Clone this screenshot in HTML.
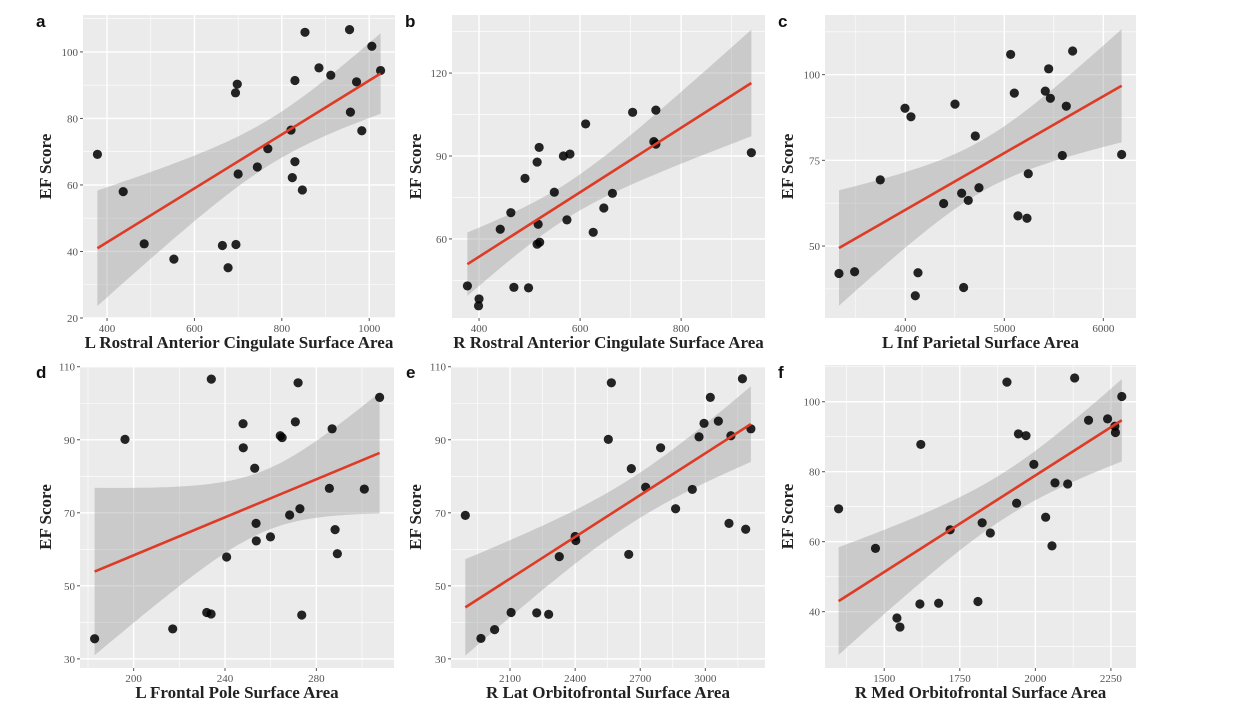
<!DOCTYPE html>
<html><head><meta charset="utf-8">
<style>
html,body{margin:0;padding:0;background:#fff;}
svg{display:block;}
.tick{font-family:"Liberation Serif",serif;font-size:11px;fill:#555;}
.ttl{font-family:"Liberation Serif",serif;font-size:17px;font-weight:bold;fill:#222;}
.let{font-family:"Liberation Sans",sans-serif;font-size:17px;font-weight:bold;fill:#111;}
</style></head>
<body>
<svg id="fig" width="1234" height="724" viewBox="0 0 1234 724" xmlns="http://www.w3.org/2000/svg"></svg>
<script>
const aX=[378,437,485,553,664,677,695,694,698,700,744,768,821,830,824,830,847,853,885,912,955,957,971,983,1006,1026];
const aY=[69.2,58,42.3,37.7,41.8,35.1,42.1,87.7,90.3,63.3,65.4,70.9,76.5,91.4,62.2,67,58.5,105.9,95.2,93,106.7,81.9,91,76.3,101.7,94.4];
const bX=[377,400,399,442,463,469,491,498,515,519,517,515,520,549,567,574,580,611,626,647,664,704,750,746,750,939];
const bY=[43,38.3,35.8,63.5,69.5,42.5,81.9,42.3,87.8,93.1,65.3,58.1,58.8,76.9,90,66.9,90.7,101.6,62.4,71.2,76.5,105.8,106.6,95.2,94.3,91.2];
const cX=[3330,3488,3747,3997,4057,4128,4101,4387,4502,4569,4636,4589,4707,4744,5064,5101,5138,5229,5242,5414,5448,5465,5586,5626,5690,6185];
const cY=[42,42.5,69.3,90.2,87.7,42.2,35.5,62.4,91.4,65.4,63.3,37.9,82.1,67,105.9,94.6,58.8,58.1,71.1,95.2,101.7,93.1,76.4,90.8,106.9,76.7];
const dX=[182.9,196.2,217.1,232,233.9,234,240.7,247.9,248,253,253.6,253.7,259.9,264.2,265,268.3,270.8,272,272.8,273.6,285.7,286.9,288.2,289.2,301,307.7];
const dY=[35.5,90.1,38.2,42.7,42.3,106.6,57.9,94.4,87.8,82.2,67.1,62.3,63.4,91.1,90.6,69.4,94.9,105.6,71.1,42,76.7,93,65.4,58.8,76.5,101.6];
const eX=[1894,1966,2029,2105,2223,2278,2327,2400,2403,2553,2567,2647,2659,2725,2794,2863,2940,2971,2994,3023,3060,3109,3118,3171,3186,3210];
const eY=[69.3,35.6,38,42.7,42.6,42.2,58,63.5,62.4,90.1,105.6,58.6,82.1,77,87.8,71.1,76.4,90.8,94.5,101.6,95.1,67.1,91.1,106.7,65.5,93];
const fX=[1349,1471,1542,1552,1618,1621,1680,1718,1810,1824,1851,1906,1938,1944,1969,1995,2034,2055,2065,2107,2130,2176,2239,2263,2265,2286];
const fY=[69.4,58.1,38.2,35.6,42.2,87.8,42.4,63.4,42.9,65.4,62.5,105.6,71,90.8,90.3,82.1,67,58.8,76.8,76.5,106.8,94.7,95.1,93,91.2,101.5];
const aXt=[400,600,800,1000], aYt=[20,40,60,80,100];
const bXt=[400,600,800], bYt=[60,90,120];
const cXt=[4000,5000,6000], cYt=[50,75,100];
const dXt=[200,240,280], dYt=[30,50,70,90,110];
const eXt=[2100,2400,2700,3000], eYt=[30,50,70,90,110];
const fXt=[1500,1750,2000,2250], fYt=[40,60,80,100];

const NS="http://www.w3.org/2000/svg";
const svg=document.getElementById('fig');
function mk(tag,attrs,parent){const e=document.createElementNS(NS,tag);for(const k in attrs)e.setAttribute(k,attrs[k]);(parent||svg).appendChild(e);return e;}

function panel(o){
  const g=mk('g',{});
  
  
  const sx=v=>o.px0+(v-o.x0)/(o.x1-o.x0)*(o.px1-o.px0);
  const sy=v=>o.py1-(v-o.y0)/(o.y1-o.y0)*(o.py1-o.py0);
  const bg=mk('rect',{x:o.px0,y:o.py0,width:o.px1-o.px0,height:o.py1-o.py0,fill:'#ebebeb'},g);
  
  
  const xs=o.xt[1]-o.xt[0], ys=o.yt[1]-o.yt[0];
  for(let v=o.xt[0]-xs*2.5;v<=o.x1;v+=xs/2){ if(v<o.x0)continue; const maj=Math.abs(((v-o.xt[0])/xs)%1)<1e-6;
    mk('line',{x1:sx(v),x2:sx(v),y1:o.py0,y2:o.py1,stroke:'#fff','stroke-width':maj?1.4:0.6},g);}
  for(let v=o.yt[0]-ys*2.5;v<=o.y1;v+=ys/2){ if(v<o.y0)continue; const maj=Math.abs(((v-o.yt[0])/ys)%1)<1e-6;
    mk('line',{y1:sy(v),y2:sy(v),x1:o.px0,x2:o.px1,stroke:'#fff','stroke-width':maj?1.4:0.6},g);}
  const X=o.X,Y=o.Y,n=X.length;
  const mx=X.reduce((a,b)=>a+b)/n,my=Y.reduce((a,b)=>a+b)/n;
  let sxx=0,sxy=0;for(let i=0;i<n;i++){sxx+=(X[i]-mx)**2;sxy+=(X[i]-mx)*(Y[i]-my);}
  const b=sxy/sxx,a=my-b*mx;let sse=0;for(let i=0;i<n;i++)sse+=(Y[i]-a-b*X[i])**2;
  const s=Math.sqrt(sse/(n-2)),t=2.064;
  const xmin=Math.min(...X),xmax=Math.max(...X);
  let up=[],lo=[];
  for(let k=0;k<=60;k++){const x=xmin+(xmax-xmin)*k/60;const yh=a+b*x;const se=s*Math.sqrt(1/n+(x-mx)**2/sxx);
    up.push(sx(x).toFixed(1)+','+sy(yh+t*se).toFixed(1));lo.unshift(sx(x).toFixed(1)+','+sy(yh-t*se).toFixed(1));}
  const band=mk('polygon',{points:up.concat(lo).join(' '),fill:'#999','fill-opacity':0.4},g);
  
  
  for(let i=0;i<n;i++){
    const c=mk('circle',{cx:sx(X[i]),cy:sy(Y[i]),r:4.6,fill:'#000','fill-opacity':0.85},g);
    
    
  }
  const ln=mk('line',{x1:sx(xmin),y1:sy(a+b*xmin),x2:sx(xmax),y2:sy(a+b*xmax),stroke:'#de3b26','stroke-width':2.6},g);
  
  
  for(const v of o.xt){mk('line',{x1:sx(v),x2:sx(v),y1:o.py1,y2:o.py1+3,stroke:'#555'},g);
    const tx=mk('text',{x:sx(v),y:o.py1+14,'text-anchor':'middle',class:'tick'},g);tx.textContent=v;
    
    }
  for(const v of o.yt){mk('line',{x1:o.px0-3,x2:o.px0,y1:sy(v),y2:sy(v),stroke:'#555'},g);
    const tx=mk('text',{x:o.px0-5,y:sy(v)+4,'text-anchor':'end',class:'tick'},g);tx.textContent=v;
    
    }
  const xt=mk('text',{x:(o.px0+o.px1)/2,y:o.py1+30,'text-anchor':'middle',class:'ttl'},g);xt.textContent=o.xtitle;
  
  
  const cy=(o.py0+o.py1)/2;
  const yt=mk('text',{x:o.ylx,y:cy,'text-anchor':'middle',class:'ttl',transform:'rotate(-90 '+o.ylx+' '+cy+')'},g);yt.textContent='EF Score';
  
  
  const lt=mk('text',{x:o.lx,y:o.ly,class:'let'},g);lt.textContent=o.letter;
  
  
}
panel({letter:'a',X:aX,Y:aY,xt:aXt,yt:aYt,px0:83,px1:395,py0:15,py1:318,x0:345,x1:1059,y0:20,y1:111.1,xtitle:'L Rostral Anterior Cingulate Surface Area',ylx:51,lx:36,ly:27});
panel({letter:'b',X:bX,Y:bY,xt:bXt,yt:bYt,px0:452,px1:765,py0:15,py1:318,x0:346.5,x1:966,y0:31.4,y1:141,xtitle:'R Rostral Anterior Cingulate Surface Area',ylx:421,lx:405,ly:27});
panel({letter:'c',X:cX,Y:cY,xt:cXt,yt:cYt,px0:825,px1:1136,py0:15,py1:318,x0:3189,x1:6330,y0:29,y1:117.4,xtitle:'L Inf Parietal Surface Area',ylx:793,lx:778,ly:27});
panel({letter:'d',X:dX,Y:dY,xt:dXt,yt:dYt,px0:80,px1:394,py0:366,py1:668,x0:176.5,x1:314,y0:27.5,y1:110.2,xtitle:'L Frontal Pole Surface Area',ylx:51,lx:36,ly:378});
panel({letter:'e',X:eX,Y:eY,xt:eXt,yt:eYt,px0:451,px1:765,py0:366,py1:668,x0:1828,x1:3275,y0:27.5,y1:110.2,xtitle:'R Lat Orbitofrontal Surface Area',ylx:421,lx:406,ly:378});
panel({letter:'f',X:fX,Y:fY,xt:fXt,yt:fYt,px0:825,px1:1136,py0:365,py1:668,x0:1304,x1:2333,y0:23.9,y1:110.5,xtitle:'R Med Orbitofrontal Surface Area',ylx:793,lx:778,ly:378});
</script>
</body></html>
